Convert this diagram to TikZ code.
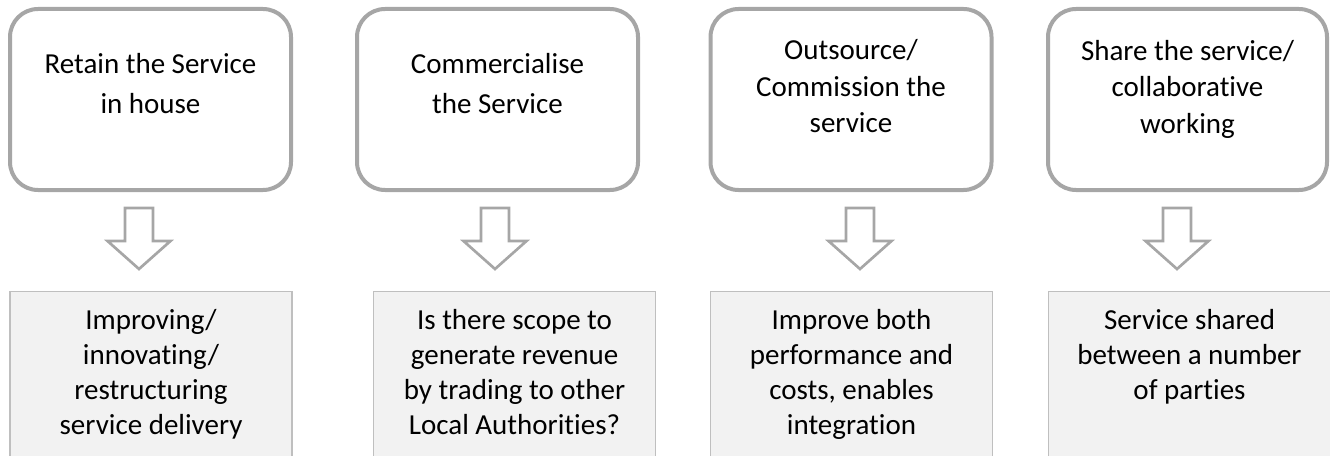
\documentclass[tikz,border=0pt]{standalone}
\usepackage{fontspec}
\setmainfont{Carlito}[Ligatures=NoCommon]
\usepackage{xcolor}
\usepackage{tikz}
\usetikzlibrary{positioning}

\begin{document}
\begin{tikzpicture}[x=0.75pt,y=0.75pt,yscale=-1,xscale=1,
  option/.style={draw={rgb,255:red,166;green,166;blue,166}, line width=3pt, rounded corners=21pt, fill=white, minimum width=210.75pt, minimum height=135.75pt, inner sep=0pt},
  outcome/.style={draw={rgb,255:red,191;green,191;blue,191}, line width=1pt, fill={rgb,255:red,242;green,242;blue,242}, minimum width=211.5pt, minimum height=150pt, inner sep=0pt},
  hollowarrow/.style={draw={rgb,255:red,166;green,166;blue,166}, line width=2pt, fill=white, line join=miter},
  boxtext/.style={anchor=north, inner sep=0pt, align=center, text=black},
  tall/.style={font=\fontsize{21.75}{30}\selectfont},
  tight/.style={font=\fontsize{21.75}{27.4}\selectfont},
  low/.style={font=\fontsize{21.75}{26.25}\selectfont}]
  \clip (0,0) rectangle (1330,456);

  %Rounded Rect
  \node[option] (retain) at (150.5,99.5) {};
  \node[option] (commerce) at (497.5,99.5) {};
  \node[option] (outsource) at (851,99.5) {};
  \node[option, minimum width=209.25pt] (share) at (1187.5,99.5) {};

  %Shape: Rectangle
  \node[outcome] (improve) at (151,391.7) {};
  \node[outcome] (revenue) at (514.5,391.7) {};
  \node[outcome] (perform) at (851.5,391.7) {};
  \node[outcome] (shared) at (1189.5,391.7) {};

  %Block Arrow
  \coordinate (a1) at (139,208);
  \coordinate (a2) at (495,208);
  \coordinate (a3) at (860,208);
  \coordinate (a4) at (1177,208);
  \draw[hollowarrow] (a1) ++(-14,0) -- ++(0,33) -- ++(-17.5,0) -- ++(31.5,28) -- ++(31.5,-28) -- ++(-17.5,0) -- ++(0,-33) -- cycle;
  \draw[hollowarrow] (a2) ++(-14,0) -- ++(0,33) -- ++(-17.5,0) -- ++(31.5,28) -- ++(31.5,-28) -- ++(-17.5,0) -- ++(0,-33) -- cycle;
  \draw[hollowarrow] (a3) ++(-14,0) -- ++(0,33) -- ++(-17.5,0) -- ++(31.5,28) -- ++(31.5,-28) -- ++(-17.5,0) -- ++(0,-33) -- cycle;
  \draw[hollowarrow] (a4) ++(-14,0) -- ++(0,33) -- ++(-17.5,0) -- ++(31.5,28) -- ++(31.5,-28) -- ++(-17.5,0) -- ++(0,-33) -- cycle;

  % Text Node
  \node[boxtext, tall] (retaintxt) at (150.5,53) {Retain the Service\\in house};
  % Text Node
  \node[boxtext, tall] (commercetxt) at (497.5,53) {Commercialise\\the Service};
  % Text Node
  \node[boxtext, tight] (outsourcetxt) at (851,39.5) {Outsource/\\Commission the\\service};
  % Text Node
  \node[boxtext, tight] (sharetxt) at (1187.5,40) {Share the service/\\collaborative\\working};

  % Text Node
  \node[boxtext, low] (improvetxt) at (151,309.5) {Improving/\\innovating/\\restructuring\\service delivery};
  % Text Node
  \node[boxtext, low] (revenuetxt) at (514.5,309.5) {Is there scope to\\generate revenue\\by trading to other\\Local Authorities?};
  % Text Node
  \node[boxtext, low] (performtxt) at (851.5,309.5) {Improve both\\performance and\\costs, enables\\integration};
  % Text Node
  \node[boxtext, low] (sharedtxt) at (1189.5,309.5) {Service shared\\between a number\\of parties};
\end{tikzpicture}
\end{document}
